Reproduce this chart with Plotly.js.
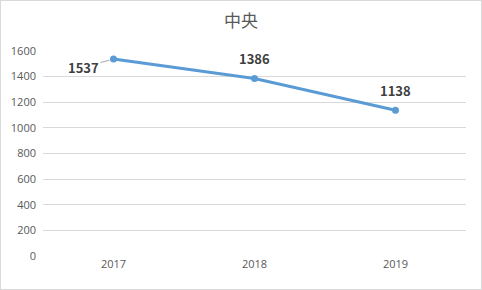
<!DOCTYPE html>
<html>
<head>
<meta charset="utf-8">
<script src="https://cdn.plot.ly/plotly-3.0.1.min.js"></script>
<style>
  html, body { margin: 0; padding: 0; background: #fff; }
  #chart { width: 482px; height: 290px; box-sizing: border-box; border: 1px solid #d9d9d9; }
</style>
</head>
<body>
<div id="chart"></div>
<script>
// Yearly totals for 中央
const years = ['2017', '2018', '2019'];
const totals = [1537, 1386, 1138];
const yTicks = [0, 200, 400, 600, 800, 1000, 1200, 1400, 1600];

const lineColor = '#5B9BD5';
const labelFont = { family: 'Noto Sans CJK SC, Open Sans, sans-serif', size: 13, color: '#404040' };

// Value labels: first one sits to the left with a leader line, the rest above
const labelOffsets = [
  { ax: -30, ay: 8, showarrow: true },
  { ax: 0, ay: -20, showarrow: false },
  { ax: 0, ay: -20, showarrow: false }
];

// Category positions are referenced by index on the category axis
const annotations = years.map((yr, i) => {
  const o = labelOffsets[i];
  const a = {
    x: i, y: totals[i], xref: 'x', yref: 'y',
    text: '<b>' + totals[i] + '</b>',
    font: labelFont,
    showarrow: o.showarrow
  };
  if (o.showarrow) {
    Object.assign(a, { ax: o.ax, ay: o.ay, arrowhead: 0, arrowwidth: 1, arrowcolor: '#a6a6a6', standoff: 4 });
  } else {
    Object.assign(a, { yshift: -o.ay });
  }
  return a;
});

const trace = {
  x: years, y: totals, type: 'scatter', mode: 'lines+markers',
  line: { color: lineColor, width: 3 },
  marker: { color: lineColor, size: 7 },
  hoverinfo: 'skip'
};

const layout = {
  width: 480, height: 288,
  margin: { l: 42, r: 15, t: 50, b: 33 },
  paper_bgcolor: '#fff', plot_bgcolor: '#fff',
  title: { text: '中央', x: 0.5, xanchor: 'center', y: 0.93, yanchor: 'middle',
           font: { family: 'Noto Sans CJK SC, sans-serif', size: 17, color: '#595959' } },
  showlegend: false,
  xaxis: { type: 'category', range: [-0.5, 2.5], autorange: false,
           showgrid: false, zeroline: false, showline: false, ticks: '',
           tickfont: { family: 'Open Sans, sans-serif', size: 11, color: '#595959' } },
  yaxis: { range: [0, 1600], tickvals: yTicks, gridcolor: '#d9d9d9', gridwidth: 1,
           zeroline: false, showline: false, ticks: '', ticklabelstandoff: 6,
           tickfont: { family: 'Open Sans, sans-serif', size: 11, color: '#595959' } },
  annotations: annotations
};

Plotly.newPlot('chart', [trace], layout, { staticPlot: true, displayModeBar: false });
</script>
</body>
</html>
